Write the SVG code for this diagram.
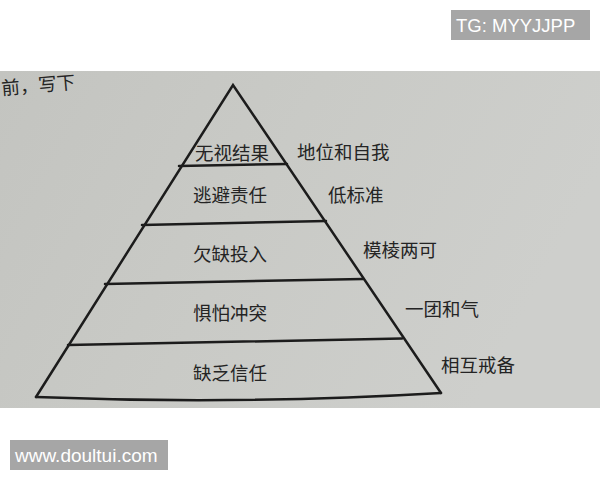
<svg xmlns="http://www.w3.org/2000/svg" width="600" height="480" viewBox="0 0 600 480">
  <defs>
    <linearGradient id="paper" x1="0" y1="0" x2="1" y2="0.3">
      <stop offset="0" stop-color="#c3c4c0"/>
      <stop offset="0.5" stop-color="#c9cac6"/>
      <stop offset="1" stop-color="#cecfcc"/>
    </linearGradient>
  </defs>
  <style>
    .edge { fill: none; stroke: #1c1c1c; stroke-width: 2.5; stroke-linejoin: miter; stroke-linecap: round; }
    .lbl { font-family: "Noto Sans CJK SC", "Noto Sans", sans-serif; font-size: 18.5px; fill: #242424; }
    .in { text-anchor: middle; }
    .wm { font-family: "Liberation Sans", Arial, sans-serif; fill: #ffffff; }
  </style>

  <rect x="0" y="0" width="600" height="480" fill="#ffffff"/>
  <rect id="photo" x="0" y="71" width="600" height="337" fill="url(#paper)"/>

  <g id="page-fragment">
    <text class="lbl" x="2" y="95" transform="rotate(-5 2 95)" font-size="12" fill="#3a3a3a">前，写下</text>
  </g>

  <g id="connectors">
    <path class="edge" d="M36,397 L233,85 L441,393"/>
    <path class="edge" d="M36,397 Q240,405 441,393"/>
    <line class="edge" x1="179" y1="166" x2="287" y2="164"/>
    <line class="edge" x1="142" y1="225" x2="326" y2="221"/>
    <line class="edge" x1="105" y1="284" x2="363" y2="279"/>
    <line class="edge" x1="68" y1="345" x2="402" y2="338.5"/>
  </g>

  <g id="level1">
    <text class="lbl in" x="232" y="160">无视结果</text>
    <text class="lbl" x="297" y="159">地位和自我</text>
  </g>
  <g id="level2">
    <text class="lbl in" x="230" y="202">逃避责任</text>
    <text class="lbl" x="328" y="202">低标准</text>
  </g>
  <g id="level3">
    <text class="lbl in" x="230" y="261">欠缺投入</text>
    <text class="lbl" x="363" y="257">模棱两可</text>
  </g>
  <g id="level4">
    <text class="lbl in" x="230" y="320">惧怕冲突</text>
    <text class="lbl" x="405" y="316">一团和气</text>
  </g>
  <g id="level5">
    <text class="lbl in" x="230" y="380">缺乏信任</text>
    <text class="lbl" x="441" y="372" font-size="17.5">相互戒备</text>
  </g>

  <g id="watermark-tg">
    <rect x="451" y="10" width="139" height="30" fill="#a6a6a6"/>
    <text class="wm" x="456" y="32.3" font-size="18.5">TG: MYYJJPP</text>
  </g>
  <g id="watermark-site">
    <rect x="10" y="440" width="158" height="30" fill="#a6a6a6"/>
    <text class="wm" x="15" y="462.3" font-size="19">www.doultui.com</text>
  </g>
</svg>
